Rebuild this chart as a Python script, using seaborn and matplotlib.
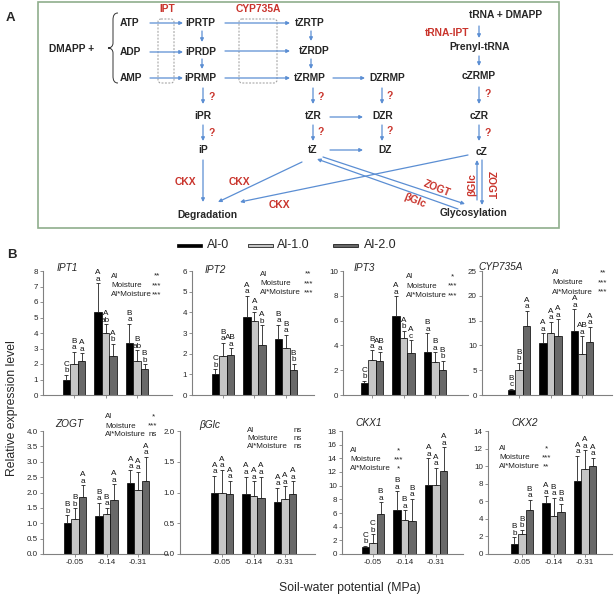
import numpy as np
import pandas as pd
import matplotlib
matplotlib.use("Agg")
import matplotlib.pyplot as plt
import seaborn as sns
from matplotlib.patches import Rectangle, FancyBboxPatch, PathPatch
from matplotlib.path import Path

# ---------------- data ----------------
POTENTIALS = ['-0.05', '-0.14', '-0.31']
AL_LEVELS = ['Al-0', 'Al-1.0', 'Al-2.0']
AL_COLORS = ['#000000', '#c6c6c6', '#686868']
STAT_TERMS = ['Al', 'Moisture', 'Al*Moisture']

# order of 9 values: (-0.05: Al-0, Al-1.0, Al-2.0), (-0.14: ...), (-0.31: ...)
IPT1_MEAN = [1.00, 2.00, 2.20, 5.35, 4.00, 2.50, 3.35, 2.20, 1.65]
IPT1_TOP = [1.30, 2.78, 2.70, 7.20, 4.55, 3.30, 4.60, 2.90, 2.00]
IPT1_SIG = ['C b', 'B a', 'A a', 'A a', 'A ab', 'A b', 'B a', 'B ab', 'B b']
IPT1_STATS = ['**', '***', '***']

IPT2_MEAN = [1.00, 1.87, 1.92, 3.77, 3.56, 2.44, 2.73, 2.27, 1.23]
IPT2_TOP = [1.24, 2.53, 2.27, 4.80, 4.00, 3.37, 3.40, 2.92, 1.52]
IPT2_SIG = ['C b', 'B a', 'AB a', 'A a', 'A a', 'A b', 'B a', 'B a', 'B b']
IPT2_STATS = ['**', '***', '***']

IPT3_MEAN = [0.97, 2.84, 2.78, 6.35, 4.62, 3.40, 3.46, 2.68, 2.03]
IPT3_TOP = [1.16, 3.60, 3.46, 7.97, 5.20, 4.40, 5.00, 3.46, 2.78]
IPT3_SIG = ['C b', 'B a', 'AB a', 'A a', 'A b', 'A c', 'B a', 'B a', 'B b']
IPT3_STATS = ['*', '***', '***']

CYP_MEAN = [0.95, 5.10, 13.90, 10.50, 12.60, 11.90, 12.90, 8.35, 10.70]
CYP_TOP = [1.30, 6.50, 17.00, 12.40, 14.80, 15.30, 17.30, 11.90, 13.80]
CYP_SIG = ['B c', 'B b', 'A a', 'A a', 'A a', 'A a', 'A a', 'AB a', 'A a']
CYP_STATS = ['**', '***', '***']

ZOGT_MEAN = [1.00, 1.14, 1.84, 1.24, 1.30, 1.74, 2.32, 2.08, 2.38]
ZOGT_TOP = [1.26, 1.49, 2.24, 1.67, 1.51, 2.27, 2.73, 2.67, 3.16]
ZOGT_SIG = ['B b', 'B b', 'A a', 'B a', 'B a', 'A a', 'A a', 'A a', 'A a']
ZOGT_STATS = ['*', '***', 'ns']

BGLC_MEAN = [1.00, 1.00, 0.97, 0.97, 0.95, 0.91, 0.84, 0.89, 0.98]
BGLC_TOP = [1.27, 1.37, 1.19, 1.26, 1.18, 1.26, 1.08, 1.10, 1.18]
BGLC_SIG = ['A a'] * 9
BGLC_STATS = ['ns', 'ns', 'ns']

CKX1_MEAN = [1.00, 1.60, 5.80, 6.50, 5.00, 4.90, 10.10, 10.10, 12.10]
CKX1_TOP = [1.20, 2.90, 7.60, 9.20, 6.40, 8.10, 14.00, 12.60, 15.60]
CKX1_SIG = ['C b', 'C b', 'B a', 'B a', 'B a', 'B a', 'A a', 'A a', 'A a']
CKX1_STATS = ['*', '***', '*']

CKX2_MEAN = [1.13, 2.33, 4.96, 5.86, 4.29, 4.74, 8.27, 9.66, 10.00]
CKX2_TOP = [1.88, 2.78, 6.17, 6.58, 6.39, 5.71, 11.17, 11.80, 10.98]
CKX2_SIG = ['B b', 'B b', 'B a', 'A a', 'B a', 'B a', 'A a', 'A a', 'A a']
CKX2_STATS = ['*', '***', '**']

GENE_NAMES = ['IPT1', 'IPT2', 'IPT3', 'CYP735A', 'ZOGT', 'βGlc', 'CKX1', 'CKX2']
GENE_MEANS = [IPT1_MEAN, IPT2_MEAN, IPT3_MEAN, CYP_MEAN, ZOGT_MEAN, BGLC_MEAN, CKX1_MEAN, CKX2_MEAN]
GENE_TOPS = [IPT1_TOP, IPT2_TOP, IPT3_TOP, CYP_TOP, ZOGT_TOP, BGLC_TOP, CKX1_TOP, CKX2_TOP]
GENE_SIGS = [IPT1_SIG, IPT2_SIG, IPT3_SIG, CYP_SIG, ZOGT_SIG, BGLC_SIG, CKX1_SIG, CKX2_SIG]
GENE_STATS = [IPT1_STATS, IPT2_STATS, IPT3_STATS, CYP_STATS, ZOGT_STATS, BGLC_STATS, CKX1_STATS, CKX2_STATS]
Y_MAX = [8, 6, 10, 25, 4.0, 2.0, 18, 14]
Y_STEP = [1, 1, 2, 5, 0.5, 0.5, 2, 2]
Y_DEC = [0, 0, 0, 0, 1, 1, 0, 0]

# ---------------- layout (pixels) ----------------
W_PX, H_PX = 614, 597
# left, width, first-tick offset, top, bottom
AX_LAYOUT = [
    (43, 129, 31, 271, 395), (192, 122, 31, 271, 395), (343, 125, 29, 271, 395), (482, 130, 37, 271, 395),
    (43, 125, 32, 431, 554), (180, 135, 42, 431, 554), (342, 121, 31, 431, 554), (488, 124, 34, 431, 554),
]
TITLE_POS = [(57, 268), (205, 270), (354, 268), (478, 267), (55, 424), (199, 425), (355, 423), (511, 423)]
# label x, star x, first y, spacing
STATS_POS = [(111, 157, 276, 9.5), (260, 308, 274, 9.5), (406, 452, 277, 9.3), (552, 603, 273, 9.5),
             (105, 153, 417, 9.0), (247, 298, 430, 8.3), (350, 398, 451, 8.7), (499, 546, 449, 8.7)]
PX_PER_UNIT = 31.5

sns.set_style('ticks')
plt.rcParams['font.family'] = ['Liberation Sans', 'DejaVu Sans']

fig = plt.figure(figsize=(W_PX / 100, H_PX / 100), dpi=100)

GRAY = '#808080'
for g in range(8):
    L, W, off, top, bot = AX_LAYOUT[g]
    ax = fig.add_axes([L / W_PX, 1 - bot / H_PX, W / W_PX, (bot - top) / H_PX])
    mean = GENE_MEANS[g]
    tops = GENE_TOPS[g]
    sig = GENE_SIGS[g]
    df = pd.DataFrame({'potential': np.repeat(POTENTIALS, 3),
                       'al': AL_LEVELS * 3,
                       'value': mean})
    sns.barplot(data=df, x='potential', y='value', hue='al', order=POTENTIALS,
                hue_order=AL_LEVELS, palette=AL_COLORS, width=0.72, gap=0,
                saturation=1, edgecolor='black', linewidth=0.5, errorbar=None,
                legend=False, ax=ax)
    conts = list(ax.containers)[:3]
    for a, cont in enumerate(conts):
        for p, bar in enumerate(cont.patches):
            i = p * 3 + a
            x = bar.get_x() + bar.get_width() / 2
            h = bar.get_height()
            ax.errorbar([x], [h], yerr=[[0], [tops[i] - h]], fmt='none',
                        ecolor='#222222', elinewidth=0.6, capsize=1.6, capthick=0.6, zorder=3)
            ax.annotate(sig[i].replace(' ', '\n'), (x, tops[i]), xytext=(0, 0.3),
                        textcoords='offset points', ha='center', va='bottom',
                        fontsize=5.9, linespacing=0.92, color='#111111')
    ymax = Y_MAX[g]
    ax.set_ylim(0, ymax)
    ticks = np.arange(0, ymax + Y_STEP[g] / 2, Y_STEP[g])
    ax.set_yticks(ticks)
    ax.set_yticklabels([f'{t:.{Y_DEC[g]}f}' for t in ticks])
    ax.set_xlim(-off / PX_PER_UNIT, (W - off) / PX_PER_UNIT)
    ax.set_xlabel('')
    ax.set_ylabel('')
    for s in ['top', 'right']:
        ax.spines[s].set_visible(False)
    for s in ['left', 'bottom']:
        ax.spines[s].set_color(GRAY)
        ax.spines[s].set_linewidth(0.8)
    ax.tick_params(axis='both', labelsize=5.8, length=2.2, width=0.6, color=GRAY, pad=1.5)
    if g < 4:
        ax.tick_params(axis='x', labelbottom=False)
    ax.patch.set_alpha(0)

# ---------------- overlay for panel A and annotations ----------------
ov = fig.add_axes([0, 0, 1, 1], zorder=10)
ov.set_xlim(0, W_PX)
ov.set_ylim(H_PX, 0)
ov.axis('off')
ov.patch.set_alpha(0)

for g in range(8):
    tx, ty = TITLE_POS[g]
    ov.text(tx, ty, GENE_NAMES[g], fontsize=7.3, style='italic', ha='left', va='center')
    lx, sx, y0, dy = STATS_POS[g]
    for k in range(3):
        ov.text(lx, y0 + k * dy, STAT_TERMS[k], fontsize=5.8, ha='left', va='center', color='#222222')
        ov.text(sx, y0 + k * dy, GENE_STATS[g][k], fontsize=5.8, ha='center', va='center', color='#222222')

# legend
LEG_POS = [(177, 207), (248, 277), (333, 364)]
for k in range(3):
    hx, tx = LEG_POS[k]
    ov.add_patch(Rectangle((hx, 243.5), 25, 3.2, facecolor=AL_COLORS[k], edgecolor='black', lw=0.5))
    ov.text(tx, 245, AL_LEVELS[k], fontsize=9, ha='left', va='center')

ov.text(7, 255, 'B', fontsize=9.5, fontweight='bold', ha='left', va='center')
ov.text(6, 18, 'A', fontsize=9.5, fontweight='bold', ha='left', va='center')
ov.text(12, 408, 'Relative expression level', fontsize=8.8, rotation=90, ha='center', va='center')
ov.text(350, 588, 'Soil-water potential (MPa)', fontsize=8.8, ha='center', va='center')

# panel A box
ov.add_patch(Rectangle((38, 2), 521, 226, facecolor='none', edgecolor='#8fae8c', lw=1.2))

BLUE = '#5b8ed3'
RED = '#c9342c'
bold_items = [
    ('ATP', 130, 23), ('ADP', 130, 52), ('AMP', 131, 78), ('DMAPP +', 72, 49),
    ('iPRTP', 200, 23), ('iPRDP', 201, 52), ('iPRMP', 200, 78),
    ('tZRTP', 310, 23), ('tZRDP', 314, 51), ('tZRMP', 310, 78), ('DZRMP', 387, 78),
    ('iPR', 203, 116), ('tZR', 313, 116), ('DZR', 383, 116), ('cZR', 479, 116),
    ('iP', 203, 150), ('tZ', 313, 150), ('DZ', 385, 150), ('cZ', 482, 152),
    ('tRNA + DMAPP', 506, 15), ('Prenyl-tRNA', 480, 47), ('cZRMP', 479, 76),
    ('Degradation', 207, 215), ('Glycosylation', 474, 213),
]
for t, x, y in bold_items:
    ov.text(x, y, t, fontsize=7.4, fontweight='bold', ha='center', va='center')

red_items = [
    ('IPT', 167, 9, 0), ('CYP735A', 258, 9, 0), ('tRNA-IPT', 447, 33, 0),
    ('CKX', 185, 182, 0), ('CKX', 239, 182, 0), ('CKX', 279, 205, 0),
    ('ZOGT', 437, 188, -22), ('βGlc', 415, 201, -22), ('βGlc', 472, 185, 90), ('ZOGT', 491, 185, -90),
]
for t, x, y, r in red_items:
    ov.text(x, y, t, fontsize=7.4, fontweight='bold', ha='center', va='center', color=RED, rotation=r)
for x, y in [(212, 97), (212, 133), (321, 97), (321, 132), (390, 96), (390, 131), (488, 94), (488, 133)]:
    ov.text(x, y, '?', fontsize=7.4, fontweight='bold', ha='center', va='center', color=RED)

arrows = [
    (150, 23, 183, 23), (150, 52, 183, 52), (150, 78, 183, 78),
    (225, 23, 290, 23), (225, 51, 290, 51), (225, 78, 290, 78),
    (202, 31, 202, 42), (202, 59, 202, 69),
    (311, 31, 311, 41), (311, 59, 311, 69),
    (333, 78, 365, 78),
    (203, 88, 203, 104), (203, 125, 203, 141),
    (313, 88, 313, 104), (313, 125, 313, 141),
    (382, 88, 382, 104), (382, 125, 382, 141),
    (330, 117, 363, 117), (330, 150, 363, 150),
    (479, 26, 479, 38), (479, 56, 479, 66), (479, 87, 479, 104), (479, 125, 479, 141),
    (203, 160, 203, 202),
    (302, 162, 218, 202),
    (468, 155, 240, 202),
    (323, 157, 465, 204),
    (458, 209, 317, 159),
    (477, 200, 477, 160), (482, 160, 482, 205),
]
for x1, y1, x2, y2 in arrows:
    ov.annotate('', xy=(x2, y2), xytext=(x1, y1),
                arrowprops=dict(arrowstyle='-|>', color=BLUE, lw=0.9, mutation_scale=5,
                                shrinkA=0, shrinkB=0))

for (x0, y0, x1, y1) in [(158, 19, 174, 83), (239, 19, 277, 83)]:
    ov.add_patch(FancyBboxPatch((x0, y0), x1 - x0, y1 - y0,
                                boxstyle='round,pad=0,rounding_size=3',
                                facecolor='none', edgecolor='#9a9a9a', lw=0.7, ls=(0, (2, 1.5))))

# brace
verts = [(118, 13), (114, 13), (113, 16), (113, 20), (113, 43),
         (113, 46), (111, 48), (108, 48),
         (111, 48), (113, 50), (113, 53),
         (113, 76), (113, 80), (114, 83), (118, 83)]
codes = [Path.MOVETO, Path.CURVE4, Path.CURVE4, Path.CURVE4, Path.LINETO,
         Path.CURVE4, Path.CURVE4, Path.CURVE4,
         Path.CURVE4, Path.CURVE4, Path.CURVE4,
         Path.LINETO, Path.CURVE4, Path.CURVE4, Path.CURVE4]
ov.add_patch(PathPatch(Path(verts, codes), facecolor='none', edgecolor='#333333', lw=0.7))

fig.savefig('out.png', dpi=100)
